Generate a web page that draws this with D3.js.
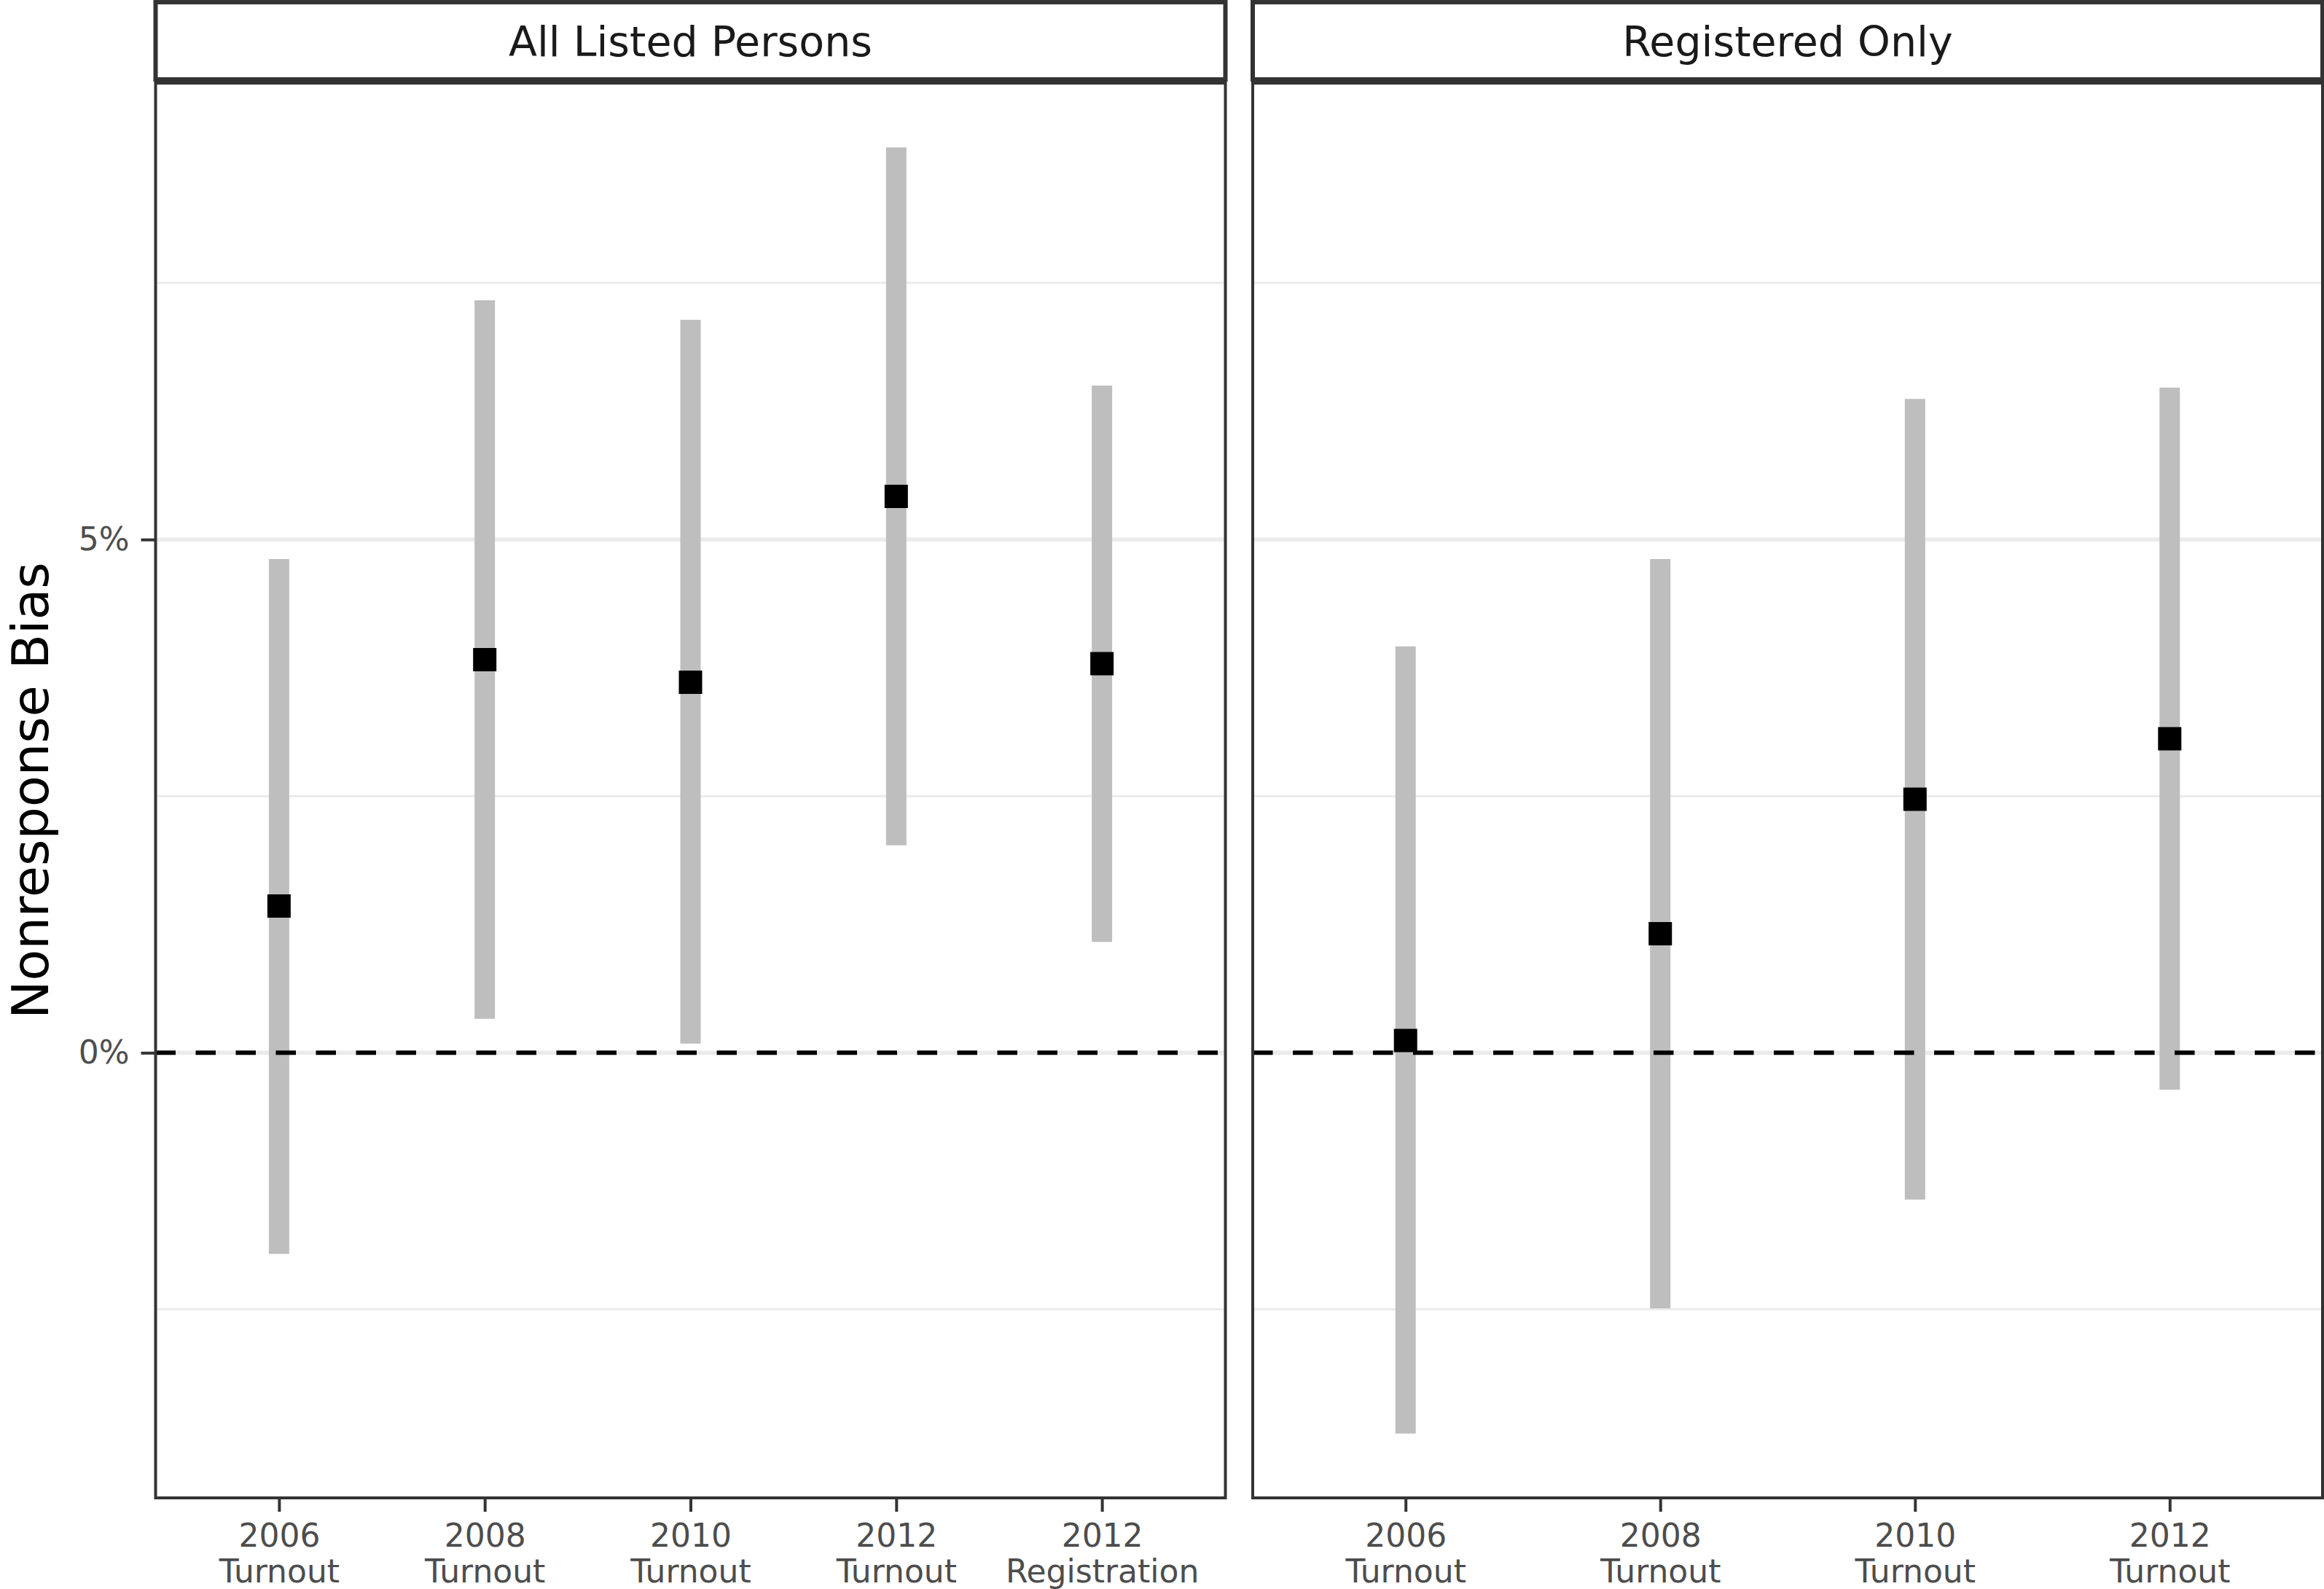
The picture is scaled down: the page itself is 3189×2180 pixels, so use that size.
<!DOCTYPE html>
<html>
<head>
<meta charset="utf-8">
<script src="https://cdn.jsdelivr.net/npm/d3@7/dist/d3.min.js"></script>
<style>
  html, body { margin: 0; padding: 0; background: #ffffff; }
  svg { display: block; }
  text { font-family: "DejaVu Sans", Verdana, sans-serif; }
</style>
</head>
<body>
<svg id="chart" width="3189" height="2180"></svg>
<script>
// ---- data ----
const panelTitles = ["All Listed Persons", "Registered Only"];

const allListedCats = ["2006 Turnout", "2008 Turnout", "2010 Turnout", "2012 Turnout", "2012 Registration"];
const allListedEst  = [1.43, 3.83, 3.61, 5.42, 3.79];
const allListedLow  = [-1.96, 0.33, 0.09, 2.02, 1.08];
const allListedHigh = [4.81, 7.33, 7.14, 8.82, 6.50];

const registeredCats = ["2006 Turnout", "2008 Turnout", "2010 Turnout", "2012 Turnout"];
const registeredEst  = [0.12, 1.16, 2.47, 3.06];
const registeredLow  = [-3.71, -2.49, -1.43, -0.36];
const registeredHigh = [3.96, 4.81, 6.37, 6.48];

const yMajorTicks = [0, 5];
const yMinorTicks = [-2.5, 2.5, 7.5];
const yAxisTitle = "Nonresponse Bias";

// ---- build panel tables ----
function rows(cats, est, low, high) {
  return cats.map((c, i) => ({ cat: c, est: est[i], low: low[i], high: high[i] }));
}
const panels = [
  { title: panelTitles[0], data: rows(allListedCats, allListedEst, allListedLow, allListedHigh) },
  { title: panelTitles[1], data: rows(registeredCats, registeredEst, registeredLow, registeredHigh) }
];

// ---- layout ----
const svg = d3.select("#chart");
const panelX = [[213.5, 1681.5], [1719, 3187]];
const panelTop = 114, panelBottom = 2055;
const stripTop = 3, stripBottom = 109;

const allVals = panels.flatMap(p => p.data.flatMap(d => [d.low, d.high, d.est]));
const yMin = d3.min(allVals), yMax = d3.max(allVals);
const pad = (yMax - yMin) * 0.05;
const y = d3.scaleLinear().domain([yMin - pad, yMax + pad]).range([panelBottom, panelTop]);

const axisColor = "#333333";
const tickTextColor = "#4D4D4D";

panels.forEach((p, pi) => {
  const [x0, x1] = panelX[pi];
  const x = d3.scalePoint().domain(p.data.map(d => d.cat)).range([x0, x1]).padding(0.6);
  const g = svg.append("g");

  // panel background
  g.append("rect").attr("x", x0).attr("y", panelTop).attr("width", x1 - x0).attr("height", panelBottom - panelTop)
    .attr("fill", "#ffffff");

  // minor gridlines
  g.selectAll("line.minor").data(yMinorTicks).join("line")
    .attr("x1", x0).attr("x2", x1).attr("y1", d => y(d)).attr("y2", d => y(d))
    .attr("stroke", "#EBEBEB").attr("stroke-width", 3);
  // major gridlines
  g.selectAll("line.major").data(yMajorTicks).join("line")
    .attr("x1", x0).attr("x2", x1).attr("y1", d => y(d)).attr("y2", d => y(d))
    .attr("stroke", "#EBEBEB").attr("stroke-width", 5.5);

  // error bars
  g.selectAll("line.err").data(p.data).join("line")
    .attr("x1", d => x(d.cat)).attr("x2", d => x(d.cat))
    .attr("y1", d => y(d.low)).attr("y2", d => y(d.high))
    .attr("stroke", "#BEBEBE").attr("stroke-width", 28);

  // zero reference line (dashed)
  g.append("line").attr("x1", x0).attr("x2", x1).attr("y1", y(0)).attr("y2", y(0))
    .attr("stroke", "#000000").attr("stroke-width", 6).attr("stroke-dasharray", "27.5 27.5");

  // points
  g.selectAll("path.pt").data(p.data).join("path")
    .attr("transform", d => `translate(${x(d.cat)},${y(d.est)})`)
    .attr("d", d3.symbol(d3.symbolSquare, 32 * 32))
    .attr("fill", "#000000");

  // panel border
  g.append("rect").attr("x", x0).attr("y", panelTop).attr("width", x1 - x0).attr("height", panelBottom - panelTop)
    .attr("fill", "none").attr("stroke", axisColor).attr("stroke-width", 4);

  // strip
  g.append("rect").attr("x", x0).attr("y", stripTop).attr("width", x1 - x0).attr("height", stripBottom - stripTop)
    .attr("fill", "#ffffff").attr("stroke", axisColor).attr("stroke-width", 6);
  g.append("text").attr("x", (x0 + x1) / 2).attr("y", 77)
    .attr("text-anchor", "middle").attr("font-size", 57).attr("fill", "#1A1A1A").text(p.title);

  // x axis
  const xAxis = d3.axisBottom(x).tickSize(18).tickPadding(0).tickFormat("");
  const xg = g.append("g").attr("transform", `translate(0,${panelBottom + 1})`).call(xAxis);
  xg.select(".domain").remove();
  xg.selectAll(".tick line").attr("stroke", axisColor).attr("stroke-width", 4);
  xg.selectAll(".tick").each(function(d) {
    const parts = d.split(" ");
    const t = d3.select(this).append("text").attr("text-anchor", "middle")
      .attr("fill", tickTextColor).attr("font-size", 44);
    t.append("tspan").attr("x", 0).attr("y", 66).text(parts[0]);
    t.append("tspan").attr("x", 0).attr("y", 115).text(parts.slice(1).join(" "));
  });

  // y axis (left panel only)
  if (pi === 0) {
    const yAxis = d3.axisLeft(y).tickValues(yMajorTicks).tickSize(19).tickPadding(16)
      .tickFormat(d => d + "%");
    const yg = g.append("g").attr("transform", `translate(${x0 - 1},0)`).call(yAxis);
    yg.select(".domain").remove();
    yg.selectAll(".tick line").attr("stroke", axisColor).attr("stroke-width", 4);
    yg.selectAll(".tick text").attr("fill", tickTextColor).attr("font-size", 44)
      .attr("font-family", "DejaVu Sans, Verdana, sans-serif");
  }
});

// y-axis title
svg.append("text")
  .attr("transform", `translate(66,${(panelTop + panelBottom) / 2}) rotate(-90)`)
  .attr("text-anchor", "middle").attr("font-size", 70).attr("fill", "#000000")
  .text(yAxisTitle);
</script>
</body>
</html>
